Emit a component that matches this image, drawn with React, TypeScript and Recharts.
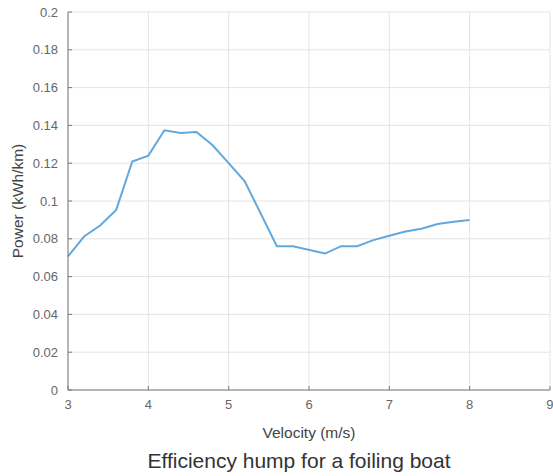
import { LineChart, XAxis, YAxis, CartesianGrid, Line, Label } from "recharts";

const velocity = [3, 3.2, 3.4, 3.6, 3.8, 4, 4.2, 4.4, 4.6, 4.8, 5, 5.2, 5.6, 5.8, 6.2, 6.4, 6.6, 6.8, 7, 7.2, 7.4, 7.6, 7.8, 8];
const power = [0.0707, 0.0812, 0.087, 0.0953, 0.1209, 0.124, 0.1374, 0.136, 0.1365, 0.1295, 0.12, 0.1104, 0.0761, 0.0761, 0.0722, 0.0761, 0.0761, 0.0793, 0.0816, 0.0839, 0.0853, 0.0878, 0.089, 0.0899];
const xTicks = [3, 4, 5, 6, 7, 8, 9];
const yTicks = [0, 0.02, 0.04, 0.06, 0.08, 0.1, 0.12, 0.14, 0.16, 0.18, 0.2];

const data = velocity.map((v, i) => ({ v, p: power[i] }));

const font = "'Liberation Sans', Arial, sans-serif";
const tickStyle = { fontSize: 13, fill: "#666", fontFamily: font };

export default function App() {
  return (
    <div style={{ position: "absolute", left: 0, top: 0, width: 553, height: 476, background: "#fff" }}>
      <LineChart
        width={553}
        height={476}
        data={data}
        margin={{ top: 12, right: 3, bottom: 46, left: 0 }}
      >
        <CartesianGrid stroke="#e4e4e4" />
        <XAxis
          dataKey="v"
          type="number"
          domain={[3, 9]}
          ticks={xTicks}
          height={40}
          stroke="#7a7a7a"
          tickSize={-4}
          tickMargin={14}
          tick={tickStyle}
        >
          <Label
            value="Velocity (m/s)"
            position="bottom"
            offset={-3}
            style={{ fontSize: 15.5, fill: "#444", fontFamily: font }}
          />
        </XAxis>
        <YAxis
          type="number"
          domain={[0, 0.2]}
          ticks={yTicks}
          width={68}
          stroke="#7a7a7a"
          tickSize={-4}
          tickMargin={14}
          tick={tickStyle}
        >
          <Label
            value="Power (kWh/km)"
            angle={-90}
            position="insideLeft"
            offset={17}
            style={{ fontSize: 15.5, fill: "#444", fontFamily: font, textAnchor: "middle" }}
          />
        </YAxis>
        <Line
          type="linear"
          dataKey="p"
          stroke="#62a8dc"
          strokeWidth={2}
          dot={false}
          isAnimationActive={false}
        />
      </LineChart>
      <div
        style={{
          position: "absolute",
          left: 0,
          width: 598,
          top: 449,
          textAlign: "center",
          fontFamily: font,
          fontSize: 21,
          color: "#333",
          whiteSpace: "nowrap",
        }}
      >
        Efficiency hump for a foiling boat
      </div>
    </div>
  );
}
